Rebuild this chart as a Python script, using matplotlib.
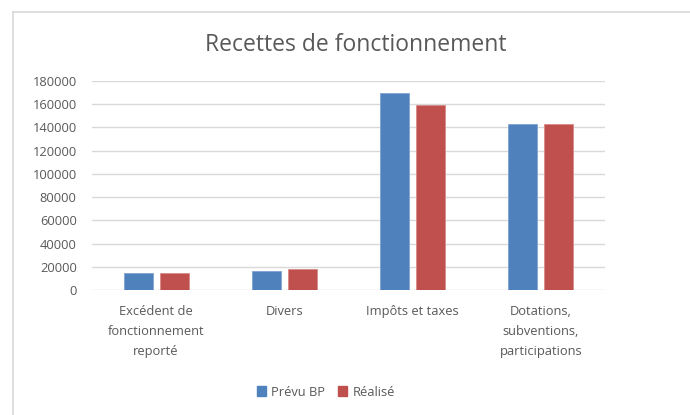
import matplotlib
matplotlib.use("Agg")
import matplotlib.pyplot as plt
import numpy as np
from matplotlib.lines import Line2D

categories = ["Excédent de\nfonctionnement\nreporté", "Divers", "Impôts et taxes",
              "Dotations,\nsubventions,\nparticipations"]
prevu = [15000, 16500, 170000, 143000]
realise = [15000, 18000, 159000, 143000]
series_names = ["Prévu BP", "Réalisé"]
yticks = [0, 20000, 40000, 60000, 80000, 100000, 120000, 140000, 160000, 180000]
ytick_labels = ["0", "20000", "40000", "60000", "80000", "100000", "120000",
                "140000", "160000", "180000"]

plt.rcParams['font.family'] = ['Open Sans', 'DejaVu Sans']
W, H = 690, 415
fig = plt.figure(figsize=(W/100, H/100), dpi=100)
ax = fig.add_axes([92/W, 1-290/H, (605-92)/W, (290-81)/H])

x = np.arange(len(categories))
bw = 0.225
gap = 0.055
c1, c2 = "#4f81bd", "#c0504d"
ax.bar(x - (bw+gap)/2, prevu, bw, color=c1, edgecolor="#7fa3d1", linewidth=0.6, zorder=3, label=series_names[0])
ax.bar(x + (bw+gap)/2, realise, bw, color=c2, edgecolor="#d88a88", linewidth=0.6, zorder=3, label=series_names[1])

ax.set_xlim(-0.5, len(categories)-0.5)
ax.set_ylim(0, 180000)
ax.set_yticks(yticks)
ax.set_yticklabels(ytick_labels)
ax.set_xticks(x)
ax.set_xticklabels(categories, linespacing=1.7)
ax.grid(axis='y', color="#d9d9d9", linewidth=1, zorder=0)
for s in ax.spines.values():
    s.set_visible(False)
ax.tick_params(axis='both', length=0, colors="#595959", labelsize=9.3)
ax.tick_params(axis='y', pad=11)
ax.tick_params(axis='x', pad=11)

fig.text(356/W, 1-45/H, "Recettes de fonctionnement", ha='center', va='center',
         fontsize=16.5, color="#595959")

handles = [plt.Rectangle((0, 0), 1, 1, color=c1), plt.Rectangle((0, 0), 1, 1, color=c2)]
fig.legend(handles, series_names, loc='center', bbox_to_anchor=(326/W, 1-392/H), ncol=2,
           frameon=False, fontsize=9.3, handlelength=0.7, handleheight=0.7,
           handletextpad=0.4, columnspacing=1.0, labelcolor="#595959")

# chart border
fig.add_artist(Line2D([13/W, 13/W], [0, 1-12/H], color="#d9d9d9", linewidth=1.2, transform=fig.transFigure))
fig.add_artist(Line2D([13/W, 1], [1-12/H, 1-12/H], color="#d9d9d9", linewidth=1.2, transform=fig.transFigure))

fig.savefig("out.png", dpi=100, facecolor="white")
